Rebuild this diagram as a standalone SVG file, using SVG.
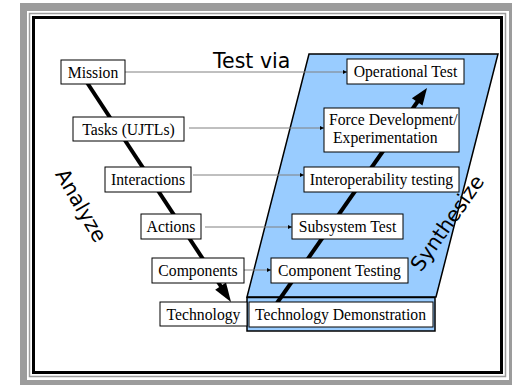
<svg xmlns="http://www.w3.org/2000/svg" width="512" height="385" viewBox="0 0 512 385">
<style>
.box{fill:#fff;stroke:#000;stroke-width:1}
.lbl{font-family:"Liberation Serif","Times New Roman",serif;font-size:15.7px;fill:#000;text-anchor:middle}
.big{font-family:"DejaVu Sans",Verdana,sans-serif;font-size:20.5px;fill:#000}
.thin{stroke:#808080;stroke-width:1;fill:none;marker-end:url(#sa)}
.thick{stroke:#000;stroke-width:4;fill:none}
</style>
<defs>
<marker id="sa" viewBox="0 0 10 10" refX="10" refY="5" markerWidth="5" markerHeight="4" markerUnits="userSpaceOnUse" orient="auto">
<path d="M0,0 L10,5 L0,10 Z" fill="#000"/>
</marker>
</defs>
<g id="frame">
<rect x="0" y="0" width="512" height="385" fill="#fff"/>
<rect x="20" y="3" width="492" height="382" fill="#9c9c9c"/>
<rect x="27.5" y="11.5" width="481" height="368" fill="#fff" stroke="#fff" stroke-width="1"/>
<rect x="29.5" y="13.5" width="476" height="363" fill="none" stroke="#9c9c9c" stroke-width="1.5"/>
<rect x="33.5" y="17.5" width="468" height="355" fill="#fff" stroke="#000" stroke-width="3"/>
</g>
<g id="synth-area">
<polygon points="309,54 498,54 436,297 247,297" fill="#99ccff" stroke="#000" stroke-width="1.5"/>
<rect x="247" y="297.5" width="188" height="33.5" fill="#99ccff" stroke="#000" stroke-width="1.5"/>
</g>
<g id="connectors">
<line class="thin" x1="125" y1="72" x2="347" y2="72"/>
<line class="thin" x1="189" y1="128" x2="324" y2="128"/>
<line class="thin" x1="193" y1="175" x2="304" y2="175"/>
<line class="thin" x1="205" y1="227" x2="292" y2="227"/>
<line class="thin" x1="244" y1="270" x2="271" y2="270"/>
<line class="thick" x1="86" y1="81" x2="222" y2="288"/>
<polygon points="231,302 226,282.5 215.2,289.7" fill="#000"/>
<line class="thick" x1="277" y1="303" x2="418" y2="101"/>
<polygon points="427,88 422.5,105.6 411.9,98.2" fill="#000"/>
</g>
<g id="mission"><rect class="box" x="61" y="60" width="64" height="24"/><text class="lbl" x="93" y="77.5">Mission</text></g>
<g id="tasks"><rect class="box" x="73" y="117" width="111" height="24"/><text class="lbl" x="128.5" y="134.5">Tasks (UJTLs)</text></g>
<g id="interactions"><rect class="box" x="105" y="167" width="86" height="25"/><text class="lbl" x="148" y="184.5">Interactions</text></g>
<g id="actions"><rect class="box" x="141" y="214" width="60" height="25"/><text class="lbl" x="171" y="231.5">Actions</text></g>
<g id="components"><rect class="box" x="152" y="258" width="92" height="25"/><text class="lbl" x="198" y="275.5">Components</text></g>
<g id="technology"><rect class="box" x="160" y="302" width="87" height="24"/><text class="lbl" x="203.5" y="319.5">Technology</text></g>
<g id="operational-test"><rect class="box" x="347" y="59" width="117" height="25"/><text class="lbl" x="405.5" y="76.5">Operational Test</text></g>
<g id="force-dev"><rect class="box" x="324" y="108" width="135" height="44"/><text class="lbl" style="text-anchor:start" x="329" y="125">Force Development/</text><text class="lbl" style="text-anchor:start" x="333" y="143">Experimentation</text></g>
<g id="interop"><rect class="box" x="304" y="167" width="155" height="25"/><text class="lbl" x="381.5" y="184.5">Interoperability testing</text></g>
<g id="subsystem"><rect class="box" x="292" y="214" width="111" height="25"/><text class="lbl" x="347.5" y="231.5">Subsystem Test</text></g>
<g id="component-testing"><rect class="box" x="271" y="258" width="137" height="25"/><text class="lbl" x="339.5" y="275.5">Component Testing</text></g>
<g id="tech-demo"><rect class="box" x="249" y="302" width="184" height="25"/><text class="lbl" x="340.5" y="319.5">Technology Demonstration</text></g>
<g id="labels">
<text class="big" x="213" y="68" font-size="21">Test via</text>
<text class="big" text-anchor="middle" transform="translate(75,209) rotate(60)">Analyze</text>
<text class="big" text-anchor="middle" transform="translate(453,227) rotate(-55)">Synthesize</text>
</g>
</svg>
